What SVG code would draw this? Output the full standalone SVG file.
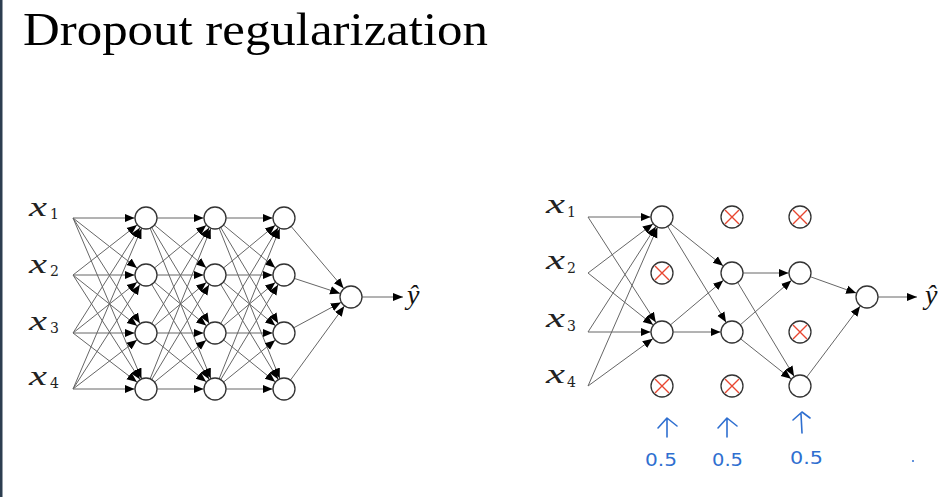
<svg xmlns="http://www.w3.org/2000/svg" width="949" height="497" viewBox="0 0 949 497">
<style>
.e{stroke:#666;stroke-width:1;fill:none;marker-end:url(#ah)}
.n{fill:#fff;stroke:#333;stroke-width:1.3}
.x{stroke:#e8452f;stroke-width:1.4}
.v{font-family:"Liberation Serif",serif;font-style:italic;font-size:28px;fill:#222}
.y{font-family:"Liberation Serif",serif;font-style:italic;font-size:28px;fill:#111}
.s{font-family:"DejaVu Serif",serif;font-size:14px;fill:#222}
.b{font-family:"DejaVu Sans",sans-serif;font-size:18px;fill:#2f6fd0}
.h{stroke:#2f6fd0;stroke-width:1.6;fill:none;stroke-linecap:round;stroke-linejoin:round}
</style>
<defs>
<marker id="ah" markerUnits="userSpaceOnUse" markerWidth="26" markerHeight="12" viewBox="0 -6 26 12" refX="21.5" refY="0" orient="auto"><path d="M0,-4.2 L10,0 L0,4.2 z" fill="#000"/></marker>
<marker id="ae" markerUnits="userSpaceOnUse" markerWidth="12" markerHeight="12" viewBox="0 -6 12 12" refX="10" refY="0" orient="auto"><path d="M0,-4 L10,0 L0,4 z" fill="#000"/></marker>
</defs>
<rect width="949" height="497" fill="#fff"/>
<rect x="0" y="0" width="2.5" height="497" fill="#2c3e50"/>
<text x="23" y="45" font-family="Liberation Serif, serif" font-size="46" textLength="465" lengthAdjust="spacingAndGlyphs" fill="#000">Dropout regularization</text>

<g id="connectors">
<path class="e" d="M73,218 L146,218"/><path class="e" d="M73,218 L146,275"/><path class="e" d="M73,218 L146,333"/><path class="e" d="M73,218 L146,389"/>
<path class="e" d="M73,275 L146,218"/><path class="e" d="M73,275 L146,275"/><path class="e" d="M73,275 L146,333"/><path class="e" d="M73,275 L146,389"/>
<path class="e" d="M73,333 L146,218"/><path class="e" d="M73,333 L146,275"/><path class="e" d="M73,333 L146,333"/><path class="e" d="M73,333 L146,389"/>
<path class="e" d="M73,389 L146,218"/><path class="e" d="M73,389 L146,275"/><path class="e" d="M73,389 L146,333"/><path class="e" d="M73,389 L146,389"/>
<path class="e" d="M146,218 L215,218"/><path class="e" d="M146,218 L215,275"/><path class="e" d="M146,218 L215,333"/><path class="e" d="M146,218 L215,389"/>
<path class="e" d="M146,275 L215,218"/><path class="e" d="M146,275 L215,275"/><path class="e" d="M146,275 L215,333"/><path class="e" d="M146,275 L215,389"/>
<path class="e" d="M146,333 L215,218"/><path class="e" d="M146,333 L215,275"/><path class="e" d="M146,333 L215,333"/><path class="e" d="M146,333 L215,389"/>
<path class="e" d="M146,389 L215,218"/><path class="e" d="M146,389 L215,275"/><path class="e" d="M146,389 L215,333"/><path class="e" d="M146,389 L215,389"/>
<path class="e" d="M215,218 L284,218"/><path class="e" d="M215,218 L284,275"/><path class="e" d="M215,218 L284,333"/><path class="e" d="M215,218 L284,389"/>
<path class="e" d="M215,275 L284,218"/><path class="e" d="M215,275 L284,275"/><path class="e" d="M215,275 L284,333"/><path class="e" d="M215,275 L284,389"/>
<path class="e" d="M215,333 L284,218"/><path class="e" d="M215,333 L284,275"/><path class="e" d="M215,333 L284,333"/><path class="e" d="M215,333 L284,389"/>
<path class="e" d="M215,389 L284,218"/><path class="e" d="M215,389 L284,275"/><path class="e" d="M215,389 L284,333"/><path class="e" d="M215,389 L284,389"/>
<path class="e" d="M284,218 L351,297"/><path class="e" d="M284,275 L351,297"/><path class="e" d="M284,333 L351,297"/><path class="e" d="M284,389 L351,297"/>
<path d="M362,297 L403,297" stroke="#666" stroke-width="1" marker-end="url(#ae)"/>

<path class="e" d="M588,217 L662,217"/><path class="e" d="M588,217 L662,332"/>
<path class="e" d="M588,273 L662,217"/><path class="e" d="M588,273 L662,332"/>
<path class="e" d="M588,332 L662,217"/><path class="e" d="M588,332 L662,332"/>
<path class="e" d="M588,386 L662,217"/><path class="e" d="M588,386 L662,332"/>
<path class="e" d="M662,217 L732,273"/><path class="e" d="M662,217 L732,332"/>
<path class="e" d="M662,332 L732,273"/><path class="e" d="M662,332 L732,332"/>
<path class="e" d="M732,273 L800,273"/><path class="e" d="M732,273 L800,386"/>
<path class="e" d="M732,332 L800,273"/><path class="e" d="M732,332 L800,386"/>
<path class="e" d="M800,273 L867,297"/><path class="e" d="M800,386 L867,297"/>
<path d="M878,297 L917,297" stroke="#666" stroke-width="1" marker-end="url(#ae)"/>
</g>

<g id="left-x1"><text class="v" x="29" y="216" textLength="18" lengthAdjust="spacingAndGlyphs">x</text><text class="s" x="50" y="219">1</text></g>
<g id="left-x2"><text class="v" x="29" y="273" textLength="18" lengthAdjust="spacingAndGlyphs">x</text><text class="s" x="50" y="276">2</text></g>
<g id="left-x3"><text class="v" x="29" y="330" textLength="18" lengthAdjust="spacingAndGlyphs">x</text><text class="s" x="50" y="333">3</text></g>
<g id="left-x4"><text class="v" x="29" y="385" textLength="18" lengthAdjust="spacingAndGlyphs">x</text><text class="s" x="50" y="388">4</text></g>
<g id="left-l1n1"><circle class="n" cx="146" cy="218" r="11"/></g>
<g id="left-l1n2"><circle class="n" cx="146" cy="275" r="11"/></g>
<g id="left-l1n3"><circle class="n" cx="146" cy="333" r="11"/></g>
<g id="left-l1n4"><circle class="n" cx="146" cy="389" r="11"/></g>
<g id="left-l2n1"><circle class="n" cx="215" cy="218" r="11"/></g>
<g id="left-l2n2"><circle class="n" cx="215" cy="275" r="11"/></g>
<g id="left-l2n3"><circle class="n" cx="215" cy="333" r="11"/></g>
<g id="left-l2n4"><circle class="n" cx="215" cy="389" r="11"/></g>
<g id="left-l3n1"><circle class="n" cx="284" cy="218" r="11"/></g>
<g id="left-l3n2"><circle class="n" cx="284" cy="275" r="11"/></g>
<g id="left-l3n3"><circle class="n" cx="284" cy="333" r="11"/></g>
<g id="left-l3n4"><circle class="n" cx="284" cy="389" r="11"/></g>
<g id="left-out"><circle class="n" cx="351" cy="297" r="11"/></g>
<g id="left-yhat"><text class="y" x="407" y="304">ŷ</text></g>

<g id="right-x1"><text class="v" x="546" y="213" textLength="19" lengthAdjust="spacingAndGlyphs">x</text><text class="s" x="567" y="217">1</text></g>
<g id="right-x2"><text class="v" x="546" y="269" textLength="19" lengthAdjust="spacingAndGlyphs">x</text><text class="s" x="567" y="273">2</text></g>
<g id="right-x3"><text class="v" x="546" y="327" textLength="19" lengthAdjust="spacingAndGlyphs">x</text><text class="s" x="567" y="331">3</text></g>
<g id="right-x4"><text class="v" x="546" y="383" textLength="19" lengthAdjust="spacingAndGlyphs">x</text><text class="s" x="567" y="387">4</text></g>
<g id="right-l1n1"><circle class="n" cx="662" cy="217" r="11"/></g>
<g id="right-l1n2"><circle class="n" cx="662" cy="273" r="11"/><path class="x" d="M655,266 L669,280 M669,266 L655,280"/></g>
<g id="right-l1n3"><circle class="n" cx="662" cy="332" r="11"/></g>
<g id="right-l1n4"><circle class="n" cx="662" cy="386" r="11"/><path class="x" d="M655,379 L669,393 M669,379 L655,393"/></g>
<g id="right-l2n1"><circle class="n" cx="732" cy="217" r="11"/><path class="x" d="M725,210 L739,224 M739,210 L725,224"/></g>
<g id="right-l2n2"><circle class="n" cx="732" cy="273" r="11"/></g>
<g id="right-l2n3"><circle class="n" cx="732" cy="332" r="11"/></g>
<g id="right-l2n4"><circle class="n" cx="732" cy="386" r="11"/><path class="x" d="M725,379 L739,393 M739,379 L725,393"/></g>
<g id="right-l3n1"><circle class="n" cx="800" cy="217" r="11"/><path class="x" d="M793,210 L807,224 M807,210 L793,224"/></g>
<g id="right-l3n2"><circle class="n" cx="800" cy="273" r="11"/></g>
<g id="right-l3n3"><circle class="n" cx="800" cy="332" r="11"/><path class="x" d="M793,325 L807,339 M807,325 L793,339"/></g>
<g id="right-l3n4"><circle class="n" cx="800" cy="386" r="11"/></g>
<g id="right-out"><circle class="n" cx="867" cy="297" r="11"/></g>
<g id="right-yhat"><text class="y" x="925" y="304">ŷ</text></g>

<g id="note1"><path class="h" d="M667,437 L667,419 M658,428 L667,418 L677,426"/><text class="b" x="645" y="466" textLength="32" lengthAdjust="spacingAndGlyphs">0.5</text></g>
<g id="note2"><path class="h" d="M727,437 L727,419 M718,428 L727,418 L737,426"/><text class="b" x="712" y="466" textLength="31" lengthAdjust="spacingAndGlyphs">0.5</text></g>
<g id="note3"><path class="h" d="M802,433 L801,414 M793,420 L802,412 L810,418"/><text class="b" x="790" y="464" textLength="33" lengthAdjust="spacingAndGlyphs">0.5</text></g>
<circle cx="913" cy="461" r="1" fill="#2f6fd0"/>
</svg>
